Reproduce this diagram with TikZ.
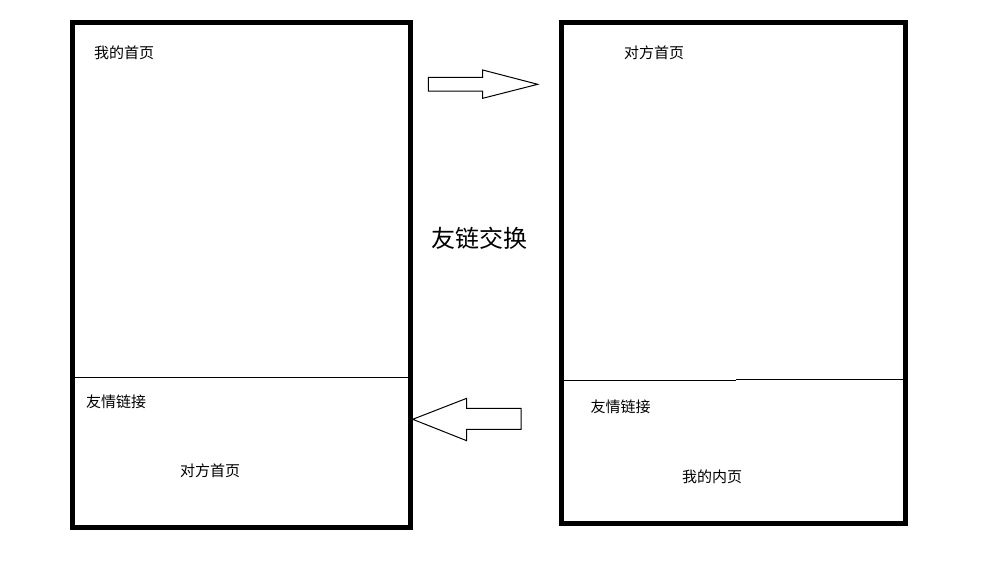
\documentclass[tikz,border=0pt]{standalone}
\usepackage{fontspec}
\newfontfamily\cjk{Noto Sans CJK SC}
\begin{document}
\begin{tikzpicture}[x=0.75pt,y=-0.75pt,
  page/.style={line width=3.75pt},
  rule/.style={line width=0.75pt},
  block/.style={line width=0.75pt,line join=miter},
  lbl/.style={font=\cjk\fontsize{11.25}{13}\selectfont,inner sep=0pt},
  title/.style={font=\cjk\fontsize{18}{21}\selectfont,inner sep=0pt}]
\useasboundingbox (0,0) rectangle (994,572);
% my site
\draw[page] (72.5,22.5) rectangle (410,527);
\draw[rule] (74,377.3) -- (408,377.3);
\node[lbl] (myhome) at (124,52.5) {我的首页};
\node[lbl] (mylinks) at (116,401.7) {友情链接};
\node[lbl] (mylinkto) at (210,470.5) {对方首页};
% other site
\draw[page] (561.5,22.5) rectangle (905.5,523.5);
\draw[rule] (563,380) -- (736,380);
\draw[rule] (736,379.3) -- (904,379.3);
\node[lbl] (otherhome) at (654,53) {对方首页};
\node[lbl] (otherlinks) at (620.5,407.2) {友情链接};
\node[lbl] (otherlinkto) at (712,476.5) {我的内页};
% exchange
\node[title] (swap) at (479,238.5) {友链交换};
\draw[block] (428.3,77.3) -- (482.7,77.3) -- (482.7,70) -- (537.7,84.3)
  -- (482.7,98.3) -- (482.7,91) -- (428.3,91) -- cycle;
\draw[block] (521,408.3) -- (466.7,408.3) -- (466.7,398.3) -- (412.7,419.3)
  -- (466.7,440.7) -- (466.7,429.3) -- (521,429.3) -- cycle;
\end{tikzpicture}
\end{document}
